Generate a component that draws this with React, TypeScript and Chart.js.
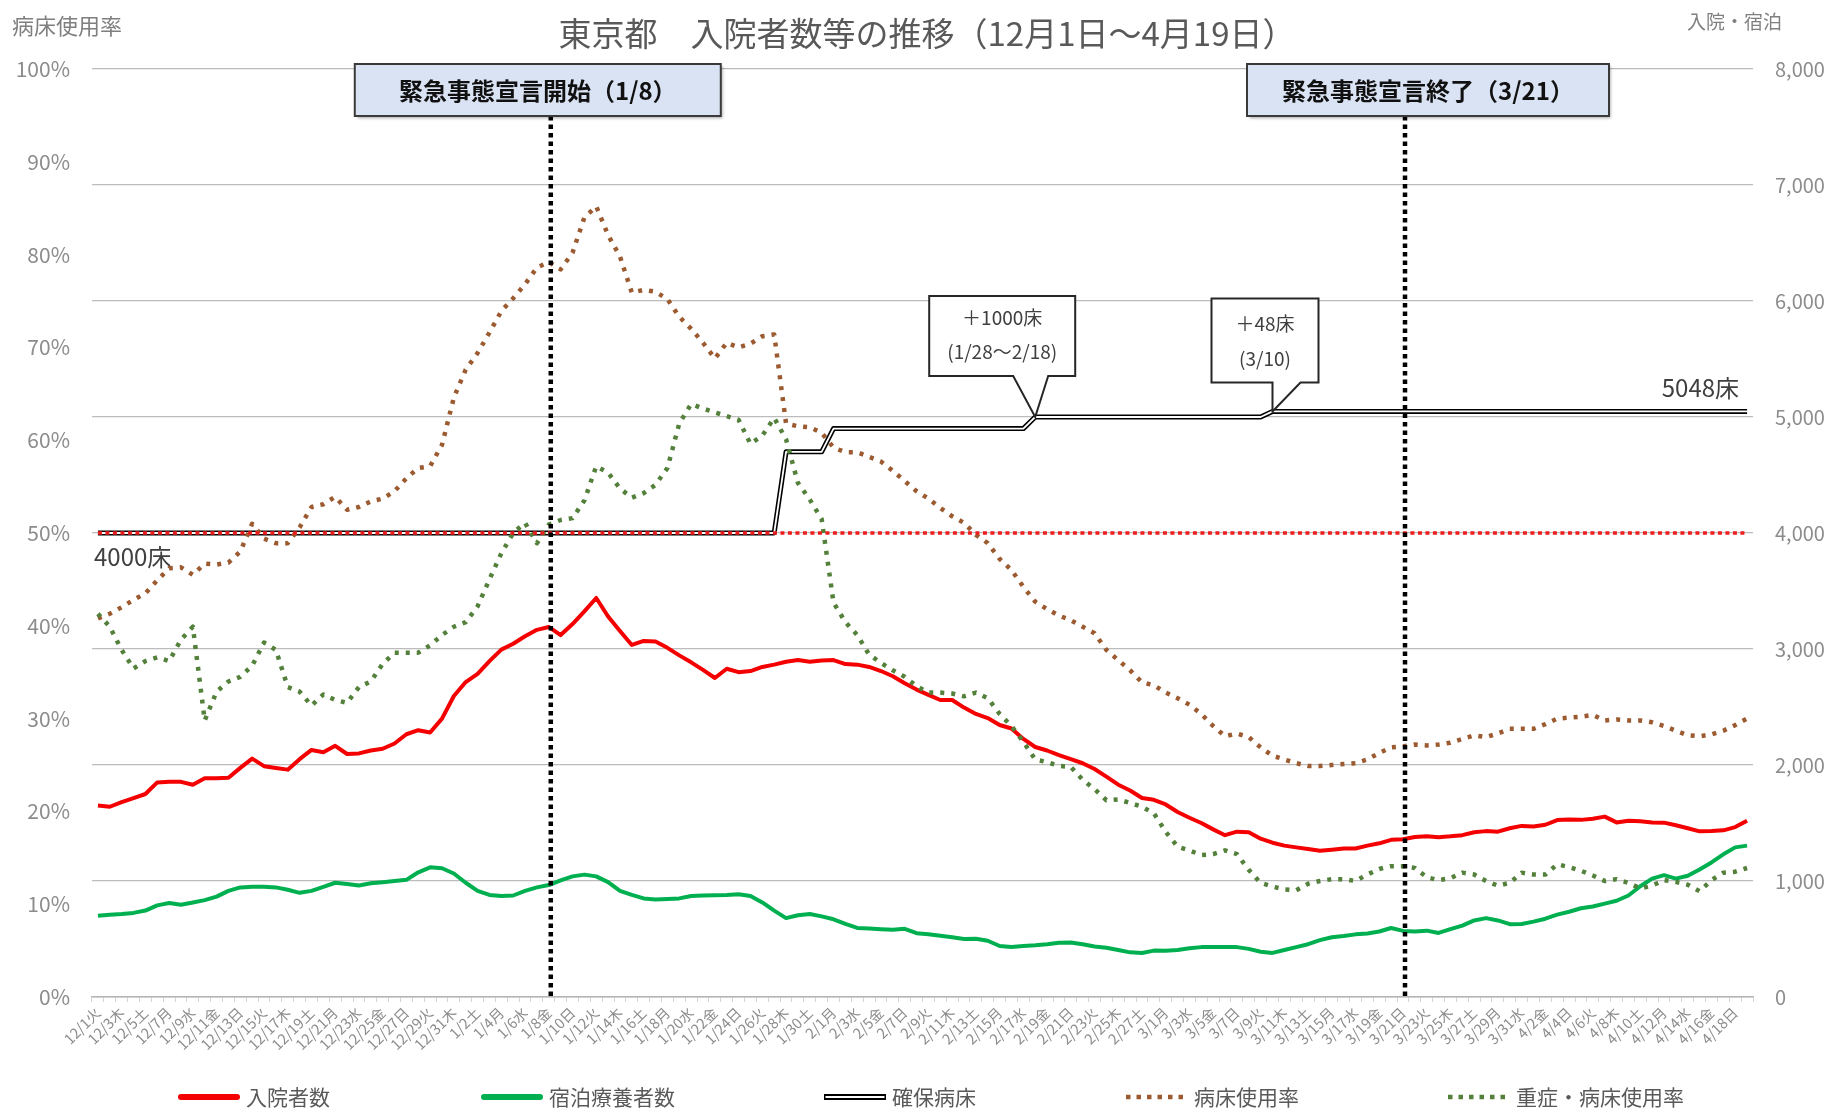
import React, { useEffect, useRef } from 'react';
import { Chart, registerables } from 'chart.js';

Chart.register(...registerables);

const FONT = '"Noto Sans CJK JP", "Noto Sans", sans-serif';

const DATES = [
  '12/1火', '12/2水', '12/3木', '12/4金', '12/5土', '12/6日', '12/7月', '12/8火', '12/9水', '12/10木',
  '12/11金', '12/12土', '12/13日', '12/14月', '12/15火', '12/16水', '12/17木', '12/18金', '12/19土', '12/20日',
  '12/21月', '12/22火', '12/23水', '12/24木', '12/25金', '12/26土', '12/27日', '12/28月', '12/29火', '12/30水',
  '12/31木', '1/1金', '1/2土', '1/3日', '1/4月', '1/5火', '1/6水', '1/7木', '1/8金', '1/9土',
  '1/10日', '1/11月', '1/12火', '1/13水', '1/14木', '1/15金', '1/16土', '1/17日', '1/18月', '1/19火',
  '1/20水', '1/21木', '1/22金', '1/23土', '1/24日', '1/25月', '1/26火', '1/27水', '1/28木', '1/29金',
  '1/30土', '1/31日', '2/1月', '2/2火', '2/3水', '2/4木', '2/5金', '2/6土', '2/7日', '2/8月',
  '2/9火', '2/10水', '2/11木', '2/12金', '2/13土', '2/14日', '2/15月', '2/16火', '2/17水', '2/18木',
  '2/19金', '2/20土', '2/21日', '2/22月', '2/23火', '2/24水', '2/25木', '2/26金', '2/27土', '2/28日',
  '3/1月', '3/2火', '3/3水', '3/4木', '3/5金', '3/6土', '3/7日', '3/8月', '3/9火', '3/10水',
  '3/11木', '3/12金', '3/13土', '3/14日', '3/15月', '3/16火', '3/17水', '3/18木', '3/19金', '3/20土',
  '3/21日', '3/22月', '3/23火', '3/24水', '3/25木', '3/26金', '3/27土', '3/28日', '3/29月', '3/30火',
  '3/31水', '4/1木', '4/2金', '4/3土', '4/4日', '4/5月', '4/6火', '4/7水', '4/8木', '4/9金',
  '4/10土', '4/11日', '4/12月', '4/13火', '4/14水', '4/15木', '4/16金', '4/17土', '4/18日', '4/19月',
];

// 入院者数 (right axis)
const HOSPITALIZED = [
  1650, 1640, 1680, 1715, 1750, 1850, 1855, 1855, 1830, 1885,
  1885, 1890, 1975, 2055, 1990, 1975, 1960, 2050, 2130, 2110,
  2165, 2095, 2100, 2125, 2140, 2185, 2265, 2300, 2280, 2400,
  2595, 2715, 2785, 2895, 2995, 3045, 3110, 3165, 3190, 3120,
  3215, 3325, 3440, 3280, 3155, 3035, 3070, 3065, 3010, 2945,
  2885, 2820, 2750, 2830, 2800, 2810, 2845, 2865, 2890, 2905,
  2890, 2900, 2905, 2870, 2865, 2845, 2810, 2765, 2705, 2650,
  2605, 2560, 2560, 2495, 2440, 2405, 2345, 2315, 2225, 2155,
  2125, 2085, 2050, 2015, 1965, 1900, 1830, 1780, 1715, 1700,
  1660, 1595, 1545, 1500, 1445, 1395, 1425, 1420, 1365, 1330,
  1305, 1290, 1275, 1260, 1270, 1280, 1280, 1305, 1325, 1355,
  1360, 1380, 1385, 1378, 1385, 1395, 1420, 1430, 1425, 1455,
  1475, 1470, 1485, 1525, 1530, 1527, 1537, 1555, 1505, 1520,
  1515, 1505, 1503, 1480, 1455, 1428, 1430, 1437, 1465, 1520,
];

// 宿泊療養者数 (right axis)
const HOTEL = [
  700, 710, 715, 725, 745, 790, 810, 795, 815, 835,
  865, 915, 945, 950, 950, 945, 925, 898, 915, 950,
  985, 975, 962, 980, 990, 1000, 1010, 1075, 1118, 1110,
  1065, 985, 915, 880, 870, 875, 915, 945, 965, 1005,
  1040, 1055, 1040, 990, 915, 880, 850, 840, 845, 850,
  870, 875, 878, 880, 885, 870, 815, 745, 680, 705,
  715, 695, 670, 630, 595, 590, 585, 580, 588, 550,
  540, 528, 515, 500, 502, 485, 440, 432, 440, 446,
  455, 468, 470, 455, 435, 425, 405, 385, 380, 400,
  398, 405, 420, 430, 430, 430, 430, 415, 390, 380,
  405, 430, 455, 490, 515, 525, 540, 548, 565, 595,
  570, 565, 572, 552, 585, 615, 660, 680, 660, 628,
  630, 650, 675, 710, 735, 765, 780, 805, 830, 875,
  955, 1020, 1050, 1020, 1045, 1100, 1160, 1230, 1290, 1305,
];

// 確保病床 (right axis)
const SECURED_BEDS = [
  4000, 4000, 4000, 4000, 4000, 4000, 4000, 4000, 4000, 4000,
  4000, 4000, 4000, 4000, 4000, 4000, 4000, 4000, 4000, 4000,
  4000, 4000, 4000, 4000, 4000, 4000, 4000, 4000, 4000, 4000,
  4000, 4000, 4000, 4000, 4000, 4000, 4000, 4000, 4000, 4000,
  4000, 4000, 4000, 4000, 4000, 4000, 4000, 4000, 4000, 4000,
  4000, 4000, 4000, 4000, 4000, 4000, 4000, 4000, 4700, 4700,
  4700, 4700, 4900, 4900, 4900, 4900, 4900, 4900, 4900, 4900,
  4900, 4900, 4900, 4900, 4900, 4900, 4900, 4900, 4900, 5000,
  5000, 5000, 5000, 5000, 5000, 5000, 5000, 5000, 5000, 5000,
  5000, 5000, 5000, 5000, 5000, 5000, 5000, 5000, 5000, 5048,
  5048, 5048, 5048, 5048, 5048, 5048, 5048, 5048, 5048, 5048,
  5048, 5048, 5048, 5048, 5048, 5048, 5048, 5048, 5048, 5048,
  5048, 5048, 5048, 5048, 5048, 5048, 5048, 5048, 5048, 5048,
  5048, 5048, 5048, 5048, 5048, 5048, 5048, 5048, 5048, 5048,
];

// 病床使用率 (%; left axis)
const BED_RATE = [
  40.8, 41.3, 42.0, 42.8, 43.5, 44.9, 46.2, 46.3, 45.5, 46.7,
  46.6, 46.8, 48.0, 51.0, 49.4, 48.9, 48.9, 50.6, 52.8, 53.1,
  53.9, 52.5, 52.8, 53.4, 53.7, 54.5, 55.9, 57.0, 57.2, 59.5,
  64.6, 67.6, 69.4, 71.6, 73.9, 75.3, 76.8, 78.6, 79.2, 78.4,
  80.2, 84.0, 85.2, 82.1, 79.8, 75.9, 76.2, 76.0, 75.2, 73.3,
  72.0, 70.5, 68.8, 70.5, 70.0, 70.4, 71.2, 71.4, 61.8, 61.5,
  61.4, 60.8, 59.2, 58.7, 58.7, 58.2, 57.7, 56.7, 55.6, 54.5,
  53.7, 52.7, 51.8, 51.1, 49.8, 48.9, 47.2, 46.0, 44.2, 42.6,
  41.8, 41.1, 40.6, 39.9, 39.2, 37.4, 36.3, 35.2, 33.9, 33.6,
  32.8, 32.2, 31.5, 30.5, 29.2, 28.1, 28.4, 28.0, 26.9, 26.0,
  25.6, 25.2, 24.9, 24.9, 25.0, 25.1, 25.2, 25.6, 26.3, 26.9,
  27.0, 27.2, 27.1, 27.2, 27.4, 27.8, 28.2, 28.0, 28.4, 28.9,
  28.9, 28.9, 29.4, 30.0, 30.1, 30.2, 30.4, 29.8, 29.9, 29.8,
  29.8, 29.6, 29.2, 28.7, 28.2, 28.1, 28.3, 28.7, 29.3, 30.0,
];

// 重症・病床使用率 (%; left axis)
const SEVERE_RATE = [
  41.3, 39.9, 37.4, 35.4, 36.2, 36.6, 36.2, 38.5, 39.9, 29.8,
  32.9, 34.0, 34.5, 35.7, 38.2, 37.4, 33.4, 32.9, 31.4, 32.6,
  32.0, 31.7, 33.4, 34.0, 35.9, 37.1, 37.1, 37.1, 37.9, 39.0,
  39.9, 40.4, 42.1, 45.0, 47.8, 50.0, 51.1, 48.9, 50.9, 51.4,
  51.6, 53.5, 57.2, 56.5, 54.8, 53.8, 54.3, 55.2, 57.0, 61.8,
  63.9, 63.4, 63.0, 62.6, 62.2, 59.6, 60.5, 62.4, 60.1, 55.4,
  53.6, 51.5, 42.5, 40.4, 39.0, 36.9, 36.0, 35.2, 34.5, 33.5,
  32.8, 32.8, 32.7, 32.4, 32.8, 32.2, 30.5, 29.2, 27.5, 25.6,
  25.3, 24.9, 24.8, 23.4, 22.4, 21.2, 21.3, 20.9, 20.5, 19.8,
  17.8, 16.2, 15.8, 15.3, 15.4, 15.8, 15.4, 13.7, 12.3, 11.9,
  11.6, 11.5, 12.2, 12.5, 12.7, 12.7, 12.5, 13.2, 13.8, 14.1,
  14.1, 13.9, 12.9, 12.6, 12.8, 13.4, 13.2, 12.5, 12.0, 12.3,
  13.4, 13.2, 13.2, 14.3, 14.0, 13.6, 13.1, 12.5, 12.7, 12.3,
  11.7, 12.0, 12.6, 12.4, 12.1, 11.4, 12.6, 13.4, 13.5, 13.9,
];

const REFERENCE_BEDS = 4000;
const START_BEDS_LABEL = '4000床';
const END_BEDS_LABEL = '5048床';

const EVENTS = [
  { index: 38, text: '緊急事態宣言開始（1/8）' },
  { index: 110, text: '緊急事態宣言終了（3/21）' },
];

const CALLOUTS = [
  { index: 79, value: 5000, lines: ['＋1000床', '(1/28～2/18)'] },
  { index: 99, value: 5048, lines: ['＋48床', '(3/10)'] },
];

const TITLE = '東京都　入院者数等の推移（12月1日～4月19日）';
const LEFT_AXIS_TITLE = '病床使用率';
const RIGHT_AXIS_TITLE = '入院・宿泊';

const RED = '#f40000';
const GREEN = '#00b050';
const BROWN = '#9b5a30';
const DOT_GREEN = '#53803a';

// layout (pixels)
const W = 1839;
const H = 1109;
const PLOT_LEFT = 92;
const PLOT_RIGHT = 1753;
const PLOT_TOP = 69;
const PLOT_BOTTOM = 997;

const EVENT_BOXES = [
  { dx: -196, w: 366 },
  { dx: -158, w: 362 },
];
const CALLOUT_GEOM = [
  { left: -106, right: 40, top: -121, bottom: -41, pl: -22, pr: 13, t1: -99, t2: -65 },
  { left: -61, right: 46, top: -113, bottom: -29, pl: 0, pr: 28, t1: -88, t2: -53 },
];
const LEGEND_X = [178, 481, 824, 1126, 1448];
const LEGEND_Y = 1097;

function drawDottedSample(ctx: CanvasRenderingContext2D, x0: number, x1: number, y: number, color: string) {
  ctx.save();
  ctx.strokeStyle = color;
  ctx.lineWidth = 4.5;
  ctx.setLineDash([4.5, 6]);
  ctx.beginPath();
  ctx.moveTo(x0, y);
  ctx.lineTo(x1, y);
  ctx.stroke();
  ctx.restore();
}

const overlayPlugin = {
  id: 'overlay',
  afterDatasetsDraw(chart: any) {
    const { ctx, scales } = chart;
    const xs = scales.x;
    const ys = scales.y1;
    ctx.save();

    // 4000 reference line (red dotted)
    const y4 = ys.getPixelForValue(REFERENCE_BEDS);
    ctx.strokeStyle = '#ee1c1c';
    ctx.lineWidth = 3.5;
    ctx.setLineDash([4, 3.5]);
    ctx.beginPath();
    ctx.moveTo(xs.getPixelForValue(0), y4);
    ctx.lineTo(xs.getPixelForValue(DATES.length - 1), y4);
    ctx.stroke();
    ctx.setLineDash([]);

    // bed labels
    ctx.fillStyle = '#404040';
    ctx.font = `24px ${FONT}`;
    ctx.textBaseline = 'middle';
    ctx.textAlign = 'left';
    ctx.fillText(START_BEDS_LABEL, chart.chartArea.left + 2, y4 + 24);
    ctx.textAlign = 'right';
    const yEnd = ys.getPixelForValue(SECURED_BEDS[SECURED_BEDS.length - 1]);
    ctx.fillText(END_BEDS_LABEL, xs.getPixelForValue(DATES.length - 1) - 8, yEnd - 24);

    // callouts
    CALLOUTS.forEach((c, k) => {
      const g = CALLOUT_GEOM[k];
      const tx = xs.getPixelForValue(c.index);
      const ty = ys.getPixelForValue(c.value);
      ctx.beginPath();
      ctx.moveTo(tx + g.left, ty + g.top);
      ctx.lineTo(tx + g.right, ty + g.top);
      ctx.lineTo(tx + g.right, ty + g.bottom);
      ctx.lineTo(tx + g.pr, ty + g.bottom);
      ctx.lineTo(tx, ty);
      ctx.lineTo(tx + g.pl, ty + g.bottom);
      ctx.lineTo(tx + g.left, ty + g.bottom);
      ctx.closePath();
      ctx.fillStyle = '#ffffff';
      ctx.fill();
      ctx.strokeStyle = '#262626';
      ctx.lineWidth = 2;
      ctx.stroke();
      ctx.fillStyle = '#404040';
      ctx.font = `19px ${FONT}`;
      ctx.textAlign = 'center';
      const cx = tx + (g.left + g.right) / 2;
      ctx.fillText(c.lines[0], cx, ty + g.t1);
      ctx.fillText(c.lines[1], cx, ty + g.t2);
    });

    // event lines and boxes
    EVENTS.forEach((ev, k) => {
      const b = EVENT_BOXES[k];
      const lx = xs.getPixelForValue(ev.index) + 2;
      const boxTop = 64;
      const boxBottom = 116;
      ctx.strokeStyle = '#000000';
      ctx.lineWidth = 4.5;
      ctx.setLineDash([4.5, 4]);
      ctx.beginPath();
      ctx.moveTo(lx, boxBottom);
      ctx.lineTo(lx, chart.chartArea.bottom);
      ctx.stroke();
      ctx.setLineDash([]);

      const left = lx + b.dx;
      ctx.save();
      ctx.shadowColor = 'rgba(0,0,0,0.35)';
      ctx.shadowOffsetX = 2;
      ctx.shadowOffsetY = 2;
      ctx.shadowBlur = 3;
      ctx.fillStyle = '#dae3f3';
      ctx.fillRect(left, boxTop, b.w, boxBottom - boxTop);
      ctx.restore();
      ctx.strokeStyle = '#3a3a3a';
      ctx.lineWidth = 2;
      ctx.strokeRect(left, boxTop, b.w, boxBottom - boxTop);
      ctx.fillStyle = '#111111';
      ctx.font = `bold 24px ${FONT}`;
      ctx.textAlign = 'center';
      ctx.textBaseline = 'middle';
      ctx.fillText(ev.text, left + b.w / 2, (boxTop + boxBottom) / 2 + 1);
    });

    ctx.restore();
  },
  afterDraw(chart: any) {
    const { ctx } = chart;
    ctx.save();
    ctx.textBaseline = 'middle';

    // title
    ctx.fillStyle = '#595959';
    ctx.font = `33px ${FONT}`;
    ctx.textAlign = 'center';
    ctx.fillText(TITLE, 927, 33);

    // axis titles
    ctx.fillStyle = '#7f7f7f';
    ctx.font = `22px ${FONT}`;
    ctx.textAlign = 'left';
    ctx.fillText(LEFT_AXIS_TITLE, 12, 26);
    ctx.font = `19px ${FONT}`;
    ctx.textAlign = 'right';
    ctx.fillText(RIGHT_AXIS_TITLE, 1782, 22);

    // legend
    const items = chart.data.datasets.filter((d: any) => !d.hideInLegend);
    items.forEach((d: any, k: number) => {
      const x0 = LEGEND_X[k];
      const x1 = x0 + 62;
      const y = LEGEND_Y;
      if (d.legendKind === 'solid') {
        ctx.strokeStyle = d.borderColor;
        ctx.lineWidth = 6;
        ctx.lineCap = 'round';
        ctx.beginPath();
        ctx.moveTo(x0 + 3, y);
        ctx.lineTo(x1 - 3, y);
        ctx.stroke();
        ctx.lineCap = 'butt';
      } else if (d.legendKind === 'double') {
        ctx.strokeStyle = '#000000';
        ctx.lineWidth = 6;
        ctx.beginPath();
        ctx.moveTo(x0, y);
        ctx.lineTo(x1, y);
        ctx.stroke();
        ctx.strokeStyle = '#ffffff';
        ctx.lineWidth = 2;
        ctx.beginPath();
        ctx.moveTo(x0 + 1.5, y);
        ctx.lineTo(x1 - 1.5, y);
        ctx.stroke();
      } else {
        drawDottedSample(ctx, x0, x1, y, d.borderColor);
      }
      ctx.fillStyle = '#595959';
      ctx.font = `21px ${FONT}`;
      ctx.textAlign = 'left';
      ctx.fillText(d.label, x1 + 6, y);
    });
    ctx.restore();
  },
};

export default function App() {
  const ref = useRef<HTMLCanvasElement>(null);

  useEffect(() => {
    document.body.style.margin = '0';
    document.body.style.overflow = 'hidden';
    const canvas = ref.current;
    if (!canvas) return;

    const tickColor = '#8c8c8c';
    const chart = new Chart(canvas, {
      type: 'line',
      data: {
        labels: DATES,
        datasets: [
          {
            label: '入院者数',
            data: HOSPITALIZED,
            yAxisID: 'y1',
            borderColor: RED,
            borderWidth: 4,
            order: 5,
            legendKind: 'solid',
          } as any,
          {
            label: '宿泊療養者数',
            data: HOTEL,
            yAxisID: 'y1',
            borderColor: GREEN,
            borderWidth: 4,
            order: 6,
            legendKind: 'solid',
          } as any,
          {
            label: '確保病床',
            data: SECURED_BEDS,
            yAxisID: 'y1',
            borderColor: '#000000',
            borderWidth: 5,
            order: 10,
            legendKind: 'double',
          } as any,
          {
            label: '確保病床（内線）',
            data: SECURED_BEDS,
            yAxisID: 'y1',
            borderColor: '#ffffff',
            borderWidth: 1.8,
            order: 9,
            hideInLegend: true,
          } as any,
          {
            label: '病床使用率',
            data: BED_RATE,
            yAxisID: 'y',
            borderColor: BROWN,
            borderWidth: 4.5,
            borderDash: [4, 7],
            order: 4,
            legendKind: 'dot',
          } as any,
          {
            label: '重症・病床使用率',
            data: SEVERE_RATE,
            yAxisID: 'y',
            borderColor: DOT_GREEN,
            borderWidth: 4.5,
            borderDash: [4, 7],
            order: 3,
            legendKind: 'dot',
          } as any,
        ],
      },
      options: {
        responsive: false,
        animation: false,
        layout: { padding: { top: PLOT_TOP, left: 0, right: 0, bottom: 0 } },
        elements: {
          point: { radius: 0, hoverRadius: 0 },
          line: { tension: 0, borderJoinStyle: 'round' },
        },
        plugins: {
          legend: { display: false },
          title: { display: false },
          tooltip: { enabled: false },
        },
        scales: {
          x: {
            type: 'category',
            offset: true,
            grid: {
              display: true,
              drawOnChartArea: false,
              drawTicks: true,
              tickLength: 5,
              color: '#d4d4d4',
              offset: true,
            },
            border: { display: true, color: '#b5b5b5', width: 1.5 },
            ticks: {
              autoSkip: false,
              minRotation: 45,
              maxRotation: 45,
              padding: 2,
              color: tickColor,
              font: { family: FONT, size: 14.5 },
              callback: (_v: any, i: number) => (i % 2 === 0 ? DATES[i] : ''),
            },
            afterFit: (s: any) => {
              s.height = H - PLOT_BOTTOM;
            },
          },
          y: {
            position: 'left',
            min: 0,
            max: 100,
            grid: { display: false, drawTicks: false },
            border: { display: false },
            ticks: {
              stepSize: 10,
              padding: 22,
              color: tickColor,
              font: { family: FONT, size: 21 },
              callback: (v: any) => `${v}%`,
            },
            afterFit: (s: any) => {
              s.width = PLOT_LEFT;
            },
          },
          y1: {
            position: 'right',
            min: 0,
            max: 8000,
            grid: { display: true, drawTicks: false, color: '#bcbcbc', lineWidth: 1.3 },
            border: { display: false },
            ticks: {
              stepSize: 1000,
              padding: 22,
              color: tickColor,
              font: { family: FONT, size: 20 },
              callback: (v: any) => Number(v).toLocaleString('en-US'),
            },
            afterFit: (s: any) => {
              s.width = W - PLOT_RIGHT;
            },
          },
        },
      } as any,
      plugins: [overlayPlugin],
    });

    return () => chart.destroy();
  }, []);

  return (
    <div style={{ width: W, height: H, background: '#ffffff' }}>
      <canvas ref={ref} width={W} height={H} style={{ display: 'block', width: W, height: H }} />
    </div>
  );
}
